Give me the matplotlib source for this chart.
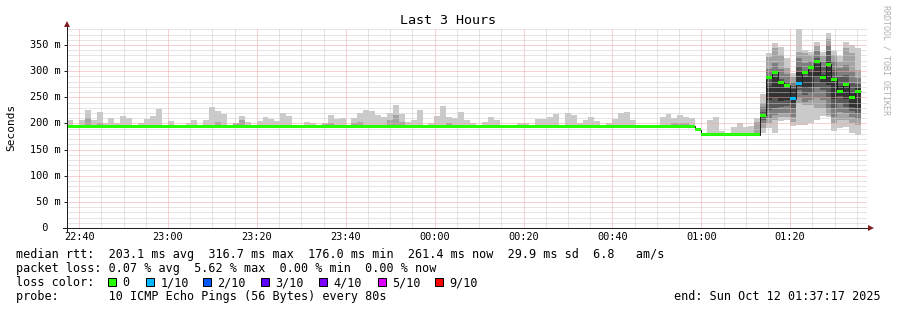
import numpy as np
import matplotlib.pyplot as plt
from matplotlib.patches import Polygon, Rectangle
from matplotlib import transforms

# canvas and plot area, in pixels (rrdtool style layout)
W, H = 897, 310
PL, PB, PW, PH = 67, 228, 800, 200

# ---- data ----
step_s = 80                      # rrd step [s]
start_hms = (22, 37, 17)         # graph start
time_labels = ['22:40', '23:00', '23:20', '23:40', '00:00',
               '00:20', '00:40', '01:00', '01:20']
y_top = 382.6                    # upper limit [ms]
y_major = [0, 50, 100, 150, 200, 250, 300, 350]

# median rtt per step [ms] (last step has no data yet)
median_ms = [195.0] * 106 + [188.0] + [178.6] * 10 + [
    215.5, 287.6, 298.4, 278.7, 272.9, 247.4, 276.8, 298.4, 307.4,
    317.6, 287.6, 313.1, 284.4, 261.5, 274.8, 250.0, 261.4]

# lost pings per step (out of 10)
loss = [0] * 122 + [1, 1] + [0] * 10

# highest and second highest ping, steps 0..116 (others sit on the median)
ping_max = [
    207, 195, 207, 226, 207, 222, 201, 210, 201, 214, 210, 195, 200, 208, 214, 228, 195, 205, 195, 195,
    201, 207, 195, 207, 231, 224, 218, 195, 201, 214, 203, 195, 205, 212, 208, 205, 220, 214, 195, 195,
    203, 200, 195, 201, 216, 208, 210, 195, 210, 220, 226, 224, 216, 212, 220, 235, 218, 203, 207, 226,
    195, 200, 214, 233, 212, 210, 222, 207, 201, 195, 203, 212, 207, 195, 195, 195, 201, 200, 195, 208,
    208, 212, 218, 195, 220, 216, 200, 207, 212, 205, 195, 201, 208, 220, 222, 207, 195, 195, 195, 195,
    212, 218, 210, 216, 213, 211, 190, 178.6, 206.6, 211.7, 186, 179, 194, 201.5, 194, 195, 210]
ping_2nd = [
    195, 195, 195, 210, 195, 201, 195, 195, 195, 195, 195, 195, 195, 195, 195, 195, 195, 195, 195, 195,
    195, 195, 195, 195, 195, 203, 195, 195, 200, 207, 195, 195, 195, 195, 195, 195, 195, 195, 195, 195,
    195, 195, 195, 199, 201, 195, 195, 195, 201, 203, 195, 195, 195, 195, 207, 216, 203, 195, 195, 195,
    195, 195, 195, 195, 200, 195, 195, 195, 195, 195, 195, 195, 195, 195, 195, 195, 195, 195, 195, 195,
    195, 195, 195, 195, 195, 195, 195, 195, 195, 195, 195, 195, 195, 195, 195, 195, 195, 195, 195, 195,
    195, 195, 201, 201, 200, 195, 188, 178.6, 178.6, 178.6, 178.6, 178.6, 178.6, 178.6, 178.6, 178.6, 202]

# all ten sorted pings for steps 117..133
active_pings = [
    [182.4, 190.7, 200.2, 206.6, 211.7, 219.4, 222.6, 230.8, 238.5, 256.4],
    [190.7, 200.2, 209.8, 226.0, 245.0, 272.0, 287.0, 305.0, 326.5, 335.4],
    [181.1, 206.6, 216.2, 230.0, 248.0, 288.0, 294.0, 316.0, 343.7, 354.5],
    [205.3, 211.7, 219.4, 232.0, 242.0, 276.0, 285.0, 305.0, 330.9, 346.9],
    [206.6, 213.0, 219.4, 234.0, 244.0, 268.0, 280.0, 294.0, 305.4, 324.6],
    [195.1, 203.4, 213.0, 228.9, 238.5, 265.0, 271.0, 279.9, 289.5, 297.2],
    [197.0, 238.5, 248.1, 264.0, 272.0, 298.0, 310.0, 324.6, 337.3, 381.0],
    [197.0, 235.3, 241.7, 254.4, 268.0, 288.0, 300.0, 316.0, 334.1, 340.5],
    [200.2, 235.3, 244.9, 257.6, 270.0, 300.0, 306.0, 320.0, 330.9, 337.3],
    [206.6, 228.9, 248.1, 270.4, 288.0, 314.0, 326.0, 338.0, 348.2, 356.5],
    [214.3, 228.9, 244.9, 264.0, 278.0, 292.0, 308.0, 318.2, 329.0, 337.3],
    [211.7, 216.2, 228.9, 251.3, 274.0, 320.0, 338.0, 350.1, 360.9, 372.4],
    [186.2, 200.2, 213.0, 228.9, 246.0, 284.0, 302.0, 320.0, 330.9, 339.2],
    [190.7, 206.6, 222.6, 238.5, 252.5, 271.0, 288.0, 306.0, 318.2, 329.0],
    [193.9, 206.6, 219.4, 232.1, 246.0, 278.0, 292.0, 312.0, 343.7, 356.5],
    [181.1, 200.2, 213.0, 224.5, 232.0, 258.0, 278.0, 300.0, 334.1, 350.1],
    [177.9, 197.0, 207.9, 219.4, 230.0, 268.0, 275.0, 286.3, 302.3, 343.7],
]

# legend values
rtt_avg, rtt_max, rtt_min, rtt_now, rtt_sd, rtt_ams = 203.1, 316.7, 176.0, 261.4, 29.9, 6.8
loss_avg, loss_max, loss_min, loss_now = 0.07, 5.62, 0.00, 0.00
loss_names = ['0', '1/10', '2/10', '3/10', '4/10', '5/10', '9/10']
loss_colors = ['#26ff00', '#00b8ff', '#0059ff', '#5e00ff', '#7e00ff', '#dd00ff', '#ff0000']
loss_index = {0: 0, 1: 1, 2: 2, 3: 3, 4: 4, 5: 5, 9: 6}

smoke_colors = ['#cacaca', '#a4a4a4', '#7e7e7e', '#585858', '#323232']

# ---- assemble the ping matrix ----
med = np.array(median_ms)
n = len(med)
n_flat = len(ping_max)
pings = np.tile(med, (10, 1))
pings[9, :n_flat] = ping_max
pings[8, :n_flat] = ping_2nd
pings[:, n_flat:] = np.array(active_pings).T
t = np.arange(n) * step_s
total_s = 3 * 3600

start_s = start_hms[0] * 3600 + start_hms[1] * 60 + start_hms[2]
def offset(label):
    h, m = map(int, label.split(':'))
    return (h * 3600 + m * 60 - start_s) % 86400
major_x = [offset(s) for s in time_labels]
minor_x = [v for v in np.arange(major_x[0] - 1200, total_s, 300)
           if 0 < v < total_s and v not in major_x]

# ---- figure ----
plt.rcParams['font.family'] = 'DejaVu Sans Mono'
fig = plt.figure(figsize=(W / 100, H / 100), dpi=100, facecolor='white')
ax = fig.add_axes([PL / W, (H - PB) / H, PW / W, PH / H])
ax.set_xlim(0, total_s)
ax.set_ylim(0, y_top)
for s in ax.spines.values():
    s.set_visible(False)

# smoke
for i in range(5):
    lo, hi = pings[i], pings[9 - i]
    ax.bar(t, hi - lo, bottom=lo, width=step_s, align='edge',
           color=smoke_colors[i], linewidth=0, zorder=1)

# grid (drawn above the smoke like rrdtool)
ax.set_axisbelow(False)
ax.set_xticks(major_x)
ax.set_xticks(minor_x, minor=True)
ax.set_yticks(y_major)
ax.set_yticks([v for v in range(10, 390, 10) if v % 50], minor=True)
dots = (0, (1, 1))
ax.grid(which='major', color='#f2a6a6', linestyle=dots, linewidth=0.72)
ax.grid(which='minor', color='#cdcdcd', linestyle=dots, linewidth=0.72)
ax.tick_params(which='both', labelleft=False, labelbottom=False)
ax.tick_params(axis='x', which='both', length=0)
ax.tick_params(axis='y', which='minor', length=0)
ax.tick_params(axis='y', which='major', length=2.2, width=0.72, color='#1f1f1f')

# median line and loss coloured median bar
edges = np.append(t, n * step_s)
ax.stairs(med, edges, baseline=None, color='#202020', linewidth=0.72, zorder=4)
sw = 1.5 * y_top / PH
bar_cols = [loss_colors[loss_index[v]] for v in loss]
ax.bar(t, 2 * sw, bottom=med - sw, width=step_s, align='edge',
       color=bar_cols, linewidth=0, zorder=5)

# axes with arrows
def axx(px):
    return (px - PL) / PW
def axy(py):
    return (PB - py) / PH
ax.plot([axx(63), axx(869)], [0, 0], transform=ax.transAxes, color='#1f1f1f',
        lw=0.72, clip_on=False, zorder=6)
ax.plot([0, 0], [axy(232), axy(25)], transform=ax.transAxes, color='#1f1f1f',
        lw=0.72, clip_on=False, zorder=6)
ax.add_patch(Polygon([[axx(868), axy(225)], [axx(874), 0], [axx(868), axy(231)]],
                     closed=True, transform=ax.transAxes, color='#801f1f',
                     clip_on=False, zorder=7, lw=0))
ax.add_patch(Polygon([[axx(64), axy(27)], [0, axy(21)], [axx(70), axy(27)]],
                     closed=True, transform=ax.transAxes, color='#801f1f',
                     clip_on=False, zorder=7, lw=0))

# tick labels
def fx(px):
    return px / W
def fy(py):
    return (H - py) / H
ytrans = transforms.blended_transform_factory(fig.transFigure, ax.transData)
for v in y_major:
    lab = '%3d m' % v if v else '  0'
    ax.text(fx(29.5), v, lab, transform=ytrans, fontsize=7.4, ha='left', va='center')
xtrans = transforms.blended_transform_factory(ax.transData, fig.transFigure)
for v, lab in zip(major_x, time_labels):
    ax.text(v, fy(240.5), lab, transform=xtrans, fontsize=7.4, ha='center', va='baseline')

# titles
fig.text(fx(448), fy(24), 'Last 3 Hours', fontsize=9.6, ha='center', va='baseline')
fig.text(fx(11), fy(127), 'Seconds', fontsize=8, rotation=90, ha='center', va='center')
fig.text(fx(886), fy(60), 'RRDTOOL / TOBI OETIKER', fontsize=6, rotation=270,
         ha='center', va='center', color='#b0b0b0')

# legend
row1 = ('median rtt:  %.1f ms avg  %.1f ms max  %.1f ms min  %.1f ms now  %.1f ms sd  %.1f   am/s'
        % (rtt_avg, rtt_max, rtt_min, rtt_now, rtt_sd, rtt_ams))
row2 = ('packet loss: %.2f %% avg  %.2f %% max  %.2f %% min  %.2f %% now'
        % (loss_avg, loss_max, loss_min, loss_now))
fig.text(fx(16), fy(258), row1, fontsize=8.5, va='baseline')
fig.text(fx(16), fy(272), row2, fontsize=8.5, va='baseline')
fig.text(fx(16), fy(286), 'loss color:', fontsize=8.5, va='baseline')
box_x = [108, 146, 203, 261, 319, 378, 435]
for bx, name, col in zip(box_x, loss_names, loss_colors):
    fig.add_artist(Rectangle((fx(bx), fy(285.5)), 8 / W, 8 / H, transform=fig.transFigure,
                             facecolor=col, edgecolor='black', linewidth=0.72))
    fig.text(fx(bx + 14.5), fy(286), name, fontsize=8.5, va='baseline')
fig.text(fx(16), fy(300), 'probe:       10 ICMP Echo Pings (56 Bytes) every 80s',
         fontsize=8.5, va='baseline')
fig.text(fx(881), fy(300), 'end: Sun Oct 12 01:37:17 2025', fontsize=8.5,
         ha='right', va='baseline')

fig.savefig('out.png', dpi=100, facecolor='white')
